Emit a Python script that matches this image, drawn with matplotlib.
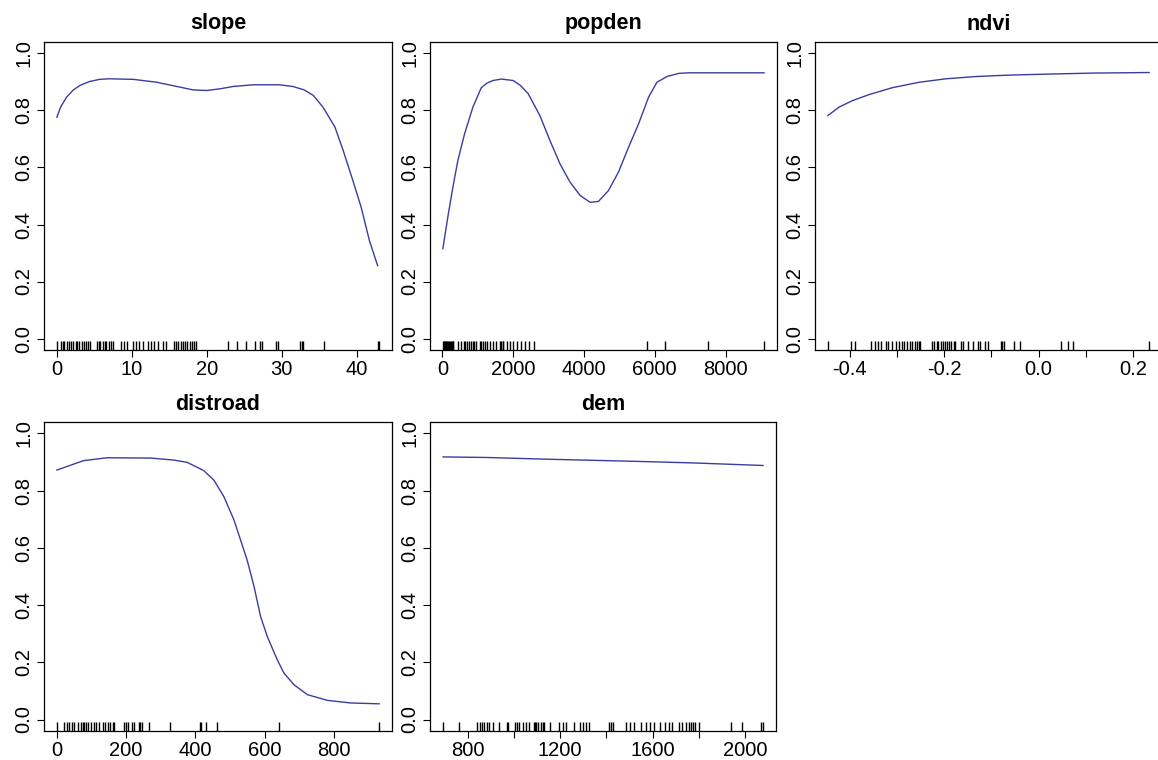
import matplotlib
matplotlib.use('Agg')
import matplotlib.pyplot as plt

plt.rc('font', family=['Liberation Sans', 'DejaVu Sans'], size=14)

LINE_COLOR = '#3c3ca0'

# slope
slope_x = [0, 0.5, 1.3, 2.2, 3.1, 4.3, 5.7, 7.0, 10.2, 13.3, 16.0, 18.2, 20.0, 21.8, 23.5,
           26.2, 29.7, 31.5, 33.0, 34.2, 35.5, 37.1, 38.2, 39.5, 40.6, 41.7, 42.8]
slope_y = [0.776, 0.812, 0.847, 0.872, 0.888, 0.901, 0.909, 0.911, 0.909, 0.899, 0.884,
           0.872, 0.870, 0.876, 0.884, 0.890, 0.890, 0.884, 0.872, 0.853, 0.812, 0.742,
           0.660, 0.554, 0.461, 0.344, 0.256]
slope_rug = [0, 0.5, 0.8, 1.0, 1.3, 1.6, 1.9, 2.2, 2.5, 2.7, 3.0, 3.3, 3.6, 3.9, 4.2, 4.4,
             5.3, 5.6, 5.8, 6.1, 6.4, 6.6, 6.9, 7.2, 7.5, 8.6, 8.9, 9.3, 10.1, 10.5, 11.0,
             11.5, 12.2, 12.6, 13.0, 13.5, 14.1, 14.6, 15.6, 15.9, 16.2, 16.5, 16.8, 17.1,
             17.4, 17.7, 18.0, 18.3, 18.6, 22.8, 24.0, 25.3, 26.5, 27.1, 27.4, 29.3, 29.5,
             32.4, 32.7, 32.9, 35.7, 42.8, 43.0]

# popden
popden_x = [10, 150, 294, 435, 624, 860, 1097, 1260, 1428, 1664, 1995, 2200, 2420, 2752,
            3035, 3319, 3603, 3887, 4170, 4407, 4690, 4974, 5258, 5541, 5825, 6061, 6345,
            6676, 6960, 9087]
popden_y = [0.315, 0.426, 0.531, 0.625, 0.718, 0.812, 0.880, 0.896, 0.905, 0.910, 0.905,
            0.888, 0.859, 0.782, 0.695, 0.613, 0.549, 0.502, 0.478, 0.481, 0.519, 0.584,
            0.671, 0.753, 0.847, 0.899, 0.919, 0.930, 0.932, 0.932]
popden_rug = [20, 40, 60, 80, 100, 120, 150, 180, 200, 230, 260, 290, 310, 450, 520, 600,
              650, 700, 760, 800, 850, 900, 950, 1050, 1100, 1150, 1200, 1260, 1350, 1420,
              1500, 1620, 1650, 1700, 1720, 1830, 1900, 2000, 2100, 2210, 2320, 2440, 2600,
              5780, 6290, 7510, 9090]

# ndvi
ndvi_x = [-0.446, -0.422, -0.393, -0.358, -0.309, -0.252, -0.196, -0.132, -0.061, 0.009,
          0.115, 0.234]
ndvi_y = [0.782, 0.812, 0.835, 0.856, 0.880, 0.899, 0.911, 0.919, 0.924, 0.927, 0.931, 0.933]
ndvi_rug = [-0.445, -0.397, -0.388, -0.355, -0.346, -0.340, -0.334, -0.322, -0.318, -0.311,
            -0.302, -0.296, -0.290, -0.285, -0.278, -0.272, -0.268, -0.262, -0.258, -0.254,
            -0.250, -0.225, -0.221, -0.216, -0.212, -0.207, -0.203, -0.199, -0.194, -0.190,
            -0.185, -0.180, -0.176, -0.164, -0.160, -0.150, -0.139, -0.129, -0.125, -0.114,
            -0.107, -0.080, -0.077, -0.073, -0.051, -0.040, 0.048, 0.062, 0.073, 0.233]

# distroad
distroad_x = [0, 77, 145, 270, 337, 376, 424, 453, 482, 511, 530, 549, 569, 588, 607, 636,
              655, 684, 723, 781, 848, 930]
distroad_y = [0.872, 0.905, 0.915, 0.914, 0.907, 0.899, 0.870, 0.837, 0.779, 0.698, 0.628,
              0.558, 0.465, 0.360, 0.291, 0.209, 0.163, 0.122, 0.087, 0.067, 0.058, 0.055]
distroad_rug = [0, 21, 29, 36, 45, 50, 60, 69, 74, 79, 84, 89, 98, 106, 113, 122, 132, 139,
                147, 153, 161, 166, 195, 200, 204, 216, 224, 236, 240, 245, 267, 327, 412,
                416, 429, 462, 642, 930]

# dem
dem_x = [693, 881, 1140, 1501, 1775, 2078]
dem_y = [0.918, 0.916, 0.910, 0.903, 0.897, 0.888]
dem_rug = [692, 764, 841, 851, 861, 872, 884, 894, 908, 937, 970, 976, 1005, 1012, 1020,
           1038, 1053, 1067, 1086, 1092, 1097, 1103, 1118, 1125, 1132, 1154, 1197, 1211,
           1226, 1262, 1284, 1298, 1313, 1327, 1413, 1420, 1428, 1485, 1504, 1519, 1550,
           1572, 1587, 1608, 1634, 1656, 1671, 1684, 1713, 1728, 1746, 1757, 1768, 1775,
           1782, 1800, 1939, 1988, 2071, 2079]

y_ticks = [0.0, 0.2, 0.4, 0.6, 0.8, 1.0]

panels = [
    ('slope', slope_x, slope_y, slope_rug, [0, 10, 20, 30, 40], [0, 10, 20, 30, 40], str),
    ('popden', popden_x, popden_y, popden_rug, [0, 2000, 4000, 6000, 8000],
     [0, 2000, 4000, 6000, 8000], str),
    ('ndvi', ndvi_x, ndvi_y, ndvi_rug, [-0.4, -0.3, -0.2, -0.1, 0.0, 0.1, 0.2],
     [-0.4, -0.2, 0.0, 0.2], lambda v: f'{v:.1f}'),
    ('distroad', distroad_x, distroad_y, distroad_rug, [0, 200, 400, 600, 800],
     [0, 200, 400, 600, 800], str),
    ('dem', dem_x, dem_y, dem_rug, [800, 1000, 1200, 1400, 1600, 1800, 2000],
     [800, 1200, 1600, 2000], str),
]

W, H = 1158, 760
# pixel boxes (left, top, width, height) for each panel
boxes = [(44, 42, 348, 308), (430, 42, 347, 308), (815, 42, 347, 308),
         (44, 422, 348, 309), (430, 422, 346, 309)]

fig = plt.figure(figsize=(W / 100, H / 100), dpi=100)

for (name, xs, ys, rug, ticks, labelled, fmt), (l, t, w, h) in zip(panels, boxes):
    ax = fig.add_axes([l / W, (H - t - h) / H, w / W, h / H])
    ax.plot(xs, ys, color=LINE_COLOR, lw=1.0)
    ax.vlines(rug, 0, 0.03, transform=ax.get_xaxis_transform(), color='black', lw=1.0)

    lo = min(min(xs), min(rug))
    hi = max(max(xs), max(rug))
    span = hi - lo
    ax.set_xlim(lo - 0.04 * span, hi + 0.04 * span)
    ax.set_ylim(-0.04, 1.04)

    ax.set_xticks(ticks)
    ax.set_xticklabels([fmt(v) if v in labelled else '' for v in ticks])
    ax.set_yticks(y_ticks)
    ax.set_yticklabels([f'{v:.1f}' for v in y_ticks], rotation=90, va='center')
    ax.tick_params(length=5, width=0.8, pad=2.5, labelsize=14.5)

    for s in ax.spines.values():
        s.set_linewidth(0.9)
        s.set_color('black')
    ax.set_title(name, fontweight='bold', fontsize=15.5, pad=9)

fig.savefig('out.png', dpi=100)
